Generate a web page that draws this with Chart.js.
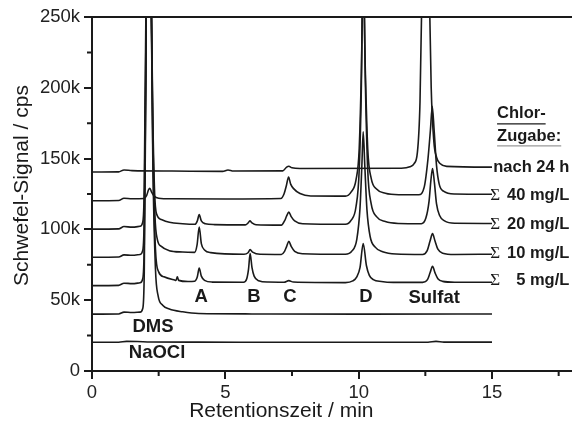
<!DOCTYPE html>
<html>
<head>
<meta charset="utf-8">
<script src="https://cdn.jsdelivr.net/npm/chart.js@4/dist/chart.umd.min.js"></script>
<style>
  body { margin: 0; background: #fff; }
  canvas { display: block; }
</style>
</head>
<body>
<canvas id="chart" width="572" height="425"></canvas>
<script>
// retention time (min), signal (k cps)
const naocl = [[0,20.3],[1.0,20.3],[1.3,20.9],[1.7,20.8],[2.2,20.5],[4,20.4],[8,20.3],[12.6,20.3],[12.9,20.9],[13.2,20.4],[15,20.4]];
const dms = [[0,40.2],[1.0,40.3],[1.2,41.6],[1.5,41.3],[1.8,41.6],[1.9,44],[1.96,70],[2.02,200],[2.1,520],[2.2,300],[2.28,150],[2.38,72],[2.48,53],[2.65,46.5],[2.9,43.8],[3.4,41.8],[4.0,40.6],[6,40.3],[10,40.2],[15,40.3]];
const sum5 = [[0,60.3],[1.0,60.5],[1.2,62],[1.5,61.7],[1.8,62.3],[1.9,65],[1.96,90],[2.02,210],[2.1,520],[2.2,300],[2.28,160],[2.38,86],[2.5,70],[2.7,66.5],[3.1,64.2],[3.15,64],[3.2,66.5],[3.25,64],[3.6,63.2],[3.85,63.4],[3.95,66.5],[4.02,72.7],[4.1,67],[4.22,64],[4.5,62.8],[5.68,62.7],[5.8,65],[5.87,72],[5.93,82.9],[6.0,73],[6.08,67],[6.25,63.8],[6.6,62.8],[7.2,62.7],[7.38,63.8],[7.55,62.8],[9.5,62.4],[9.78,63.6],[9.93,66.5],[10.05,73],[10.17,90],[10.29,74.5],[10.4,67.5],[10.55,64.5],[10.85,63.2],[11.3,62.6],[12.4,62.6],[12.58,64.5],[12.68,69.5],[12.77,74],[12.86,69.5],[12.97,65.2],[13.15,63.3],[13.6,62.7],[15,62.7]];
const sum10 = [[0,80.3],[1.0,80.5],[1.2,82],[1.5,81.7],[1.8,82.3],[1.9,85],[1.96,110],[2.02,230],[2.1,520],[2.2,300],[2.28,170],[2.36,110],[2.45,93],[2.6,88],[2.9,85],[3.4,84],[3.85,83.8],[3.94,89],[4.02,101.7],[4.1,90],[4.22,85.5],[4.45,83.6],[5.7,82.5],[5.85,83.5],[5.93,85.7],[6.02,84],[6.3,82.4],[7.1,82.3],[7.22,84.5],[7.3,88],[7.38,91.6],[7.47,88],[7.6,84.5],[7.9,82.8],[9.5,82.4],[9.75,84.8],[9.93,93],[10.05,115],[10.12,145],[10.17,169],[10.23,145],[10.31,114],[10.43,95],[10.62,87.5],[10.9,84.2],[11.4,82.6],[12.4,82.3],[12.57,85],[12.68,92],[12.77,97],[12.86,92],[12.97,86],[13.15,83.2],[13.6,82.3],[15,82.5]];
const sum20 = [[0,100.2],[1.0,100.4],[1.2,102],[1.5,101.6],[1.8,102.2],[1.9,105],[1.96,130],[2.02,250],[2.1,520],[2.2,300],[2.28,180],[2.35,125],[2.42,111],[2.6,107],[2.9,105],[3.4,104],[3.86,103.6],[3.95,106],[4.02,110.4],[4.1,106],[4.25,104],[4.6,103.4],[5.75,103.2],[5.85,104.5],[5.92,106],[6.0,104.6],[6.15,103.3],[7.1,103],[7.22,106],[7.3,109.5],[7.38,112.3],[7.47,109],[7.6,106],[7.9,104],[9.5,103.6],[9.72,106.5],[9.9,116],[10.02,142],[10.1,200],[10.17,300],[10.25,205],[10.34,142],[10.47,118],[10.67,109],[11.0,105.5],[11.5,104.2],[12.35,104],[12.52,108],[12.64,120],[12.71,135],[12.77,143],[12.84,133],[12.92,118],[13.03,110],[13.22,106],[13.6,104.3],[15,104.2]];
const sum40 = [[0,120.2],[1.0,120.4],[1.2,122],[1.5,121.6],[1.95,121.8],[2.05,124],[2.12,128],[2.17,129],[2.23,126.5],[2.32,123.8],[2.5,122],[3,121.6],[5.0,121.5],[7.08,121.8],[7.2,125],[7.29,131],[7.37,137],[7.45,132],[7.56,128.8],[7.8,125.3],[8.2,123.6],[9.5,123.5],[9.72,126.5],[9.9,135],[10.02,157],[10.1,210],[10.17,280],[10.25,212],[10.34,157],[10.47,136],[10.67,128.5],[11.0,125.5],[11.5,124.5],[12.25,124.5],[12.46,130],[12.6,150],[12.69,170],[12.76,187],[12.83,170],[12.92,145],[13.02,132],[13.18,127],[13.6,125],[15,124.8]];
const after24h = [[0,140.5],[1.0,140.6],[1.2,142],[1.5,141.5],[3,141.2],[4.9,141],[5.1,142],[5.3,141.2],[7.15,141.3],[7.3,144],[7.38,144.6],[7.5,143.5],[7.8,143],[11.6,143.2],[11.92,144.2],[12.08,146.5],[12.2,154],[12.3,190],[12.4,300],[12.52,420],[12.62,300],[12.72,200],[12.82,162],[12.92,151],[13.05,146.5],[13.3,144.5],[15,144]];

const xTicks = [0, 5, 10, 15];
const yTicks = [0, 50, 100, 150, 200, 250];
const xMinor = [2.5, 7.5, 12.5, 17.5];
const yMinor = [25, 75, 125, 175, 225];

const peakNames = ['A', 'B', 'C', 'D', 'Sulfat', 'DMS', 'NaOCl'];
const peakNameX = [4.09, 6.07, 7.42, 10.27, 12.83, 2.29, 2.44];
const peakNameY = [52, 52, 52, 52, 51.5, 31, 12.5];

const seriesNames = ['nach 24 h', '40 mg/L', '20 mg/L', '10 mg/L', '5 mg/L'];
const seriesSigma = [false, true, true, true, true];
const seriesNameY = [144, 124, 103.6, 83.3, 63.6];

const traces = [naocl, dms, sum5, sum10, sum20, sum40, after24h];

const ink = '#1a1a1a';
const sans = "'Liberation Sans', Arial, sans-serif";

const decor = {
  id: 'decor',
  afterDraw(chart) {
    const { ctx, chartArea: a, scales: { x, y } } = chart;
    ctx.save();
    ctx.strokeStyle = ink;
    ctx.lineWidth = 2;
    ctx.beginPath();
    ctx.moveTo(a.left - 1, a.top);
    ctx.lineTo(a.right, a.top);
    ctx.stroke();

    // minor ticks
    ctx.beginPath();
    xMinor.forEach(v => {
      const px = x.getPixelForValue(v);
      ctx.moveTo(px, a.bottom); ctx.lineTo(px, a.bottom + 5);
    });
    yMinor.forEach(v => {
      const py = y.getPixelForValue(v);
      ctx.moveTo(a.left, py); ctx.lineTo(a.left - 5, py);
    });
    ctx.stroke();

    ctx.fillStyle = ink;
    ctx.textBaseline = 'middle';

    // axis titles
    ctx.font = '21px ' + sans;
    ctx.textAlign = 'center';
    ctx.fillText('Retentionszeit / min', x.getPixelForValue(7.1), a.bottom + 40);
    ctx.save();
    ctx.translate(22, y.getPixelForValue(131));
    ctx.rotate(-Math.PI / 2);
    ctx.fillText('Schwefel-Signal / cps', 0, 0);
    ctx.restore();

    // peak names
    ctx.font = 'bold 18.5px ' + sans;
    peakNames.forEach((t, i) => {
      ctx.fillText(t, x.getPixelForValue(peakNameX[i]), y.getPixelForValue(peakNameY[i]));
    });

    // legend on the right
    const right = x.getPixelForValue(17.9);
    const left = x.getPixelForValue(15.19);
    ctx.textAlign = 'left';
    ctx.font = 'bold 16.5px ' + sans;
    ctx.fillText('Chlor-', left, y.getPixelForValue(182));
    ctx.fillText('Zugabe:', left, y.getPixelForValue(165.5));
    const w1 = ctx.measureText('Chlor-').width;
    const w2 = ctx.measureText('Zugabe:').width;
    ctx.lineWidth = 1.2;
    ctx.beginPath();
    ctx.moveTo(left, y.getPixelForValue(174.5)); ctx.lineTo(left + w1, y.getPixelForValue(174.5));
    ctx.stroke();
    ctx.strokeStyle = '#999';
    ctx.beginPath();
    ctx.moveTo(left, y.getPixelForValue(159)); ctx.lineTo(left + w2, y.getPixelForValue(159));
    ctx.stroke();

    ctx.textAlign = 'right';
    seriesNames.forEach((t, i) => {
      ctx.font = 'bold 16.5px ' + sans;
      ctx.fillText(t, right, y.getPixelForValue(seriesNameY[i]));
      if (seriesSigma[i]) {
        ctx.textAlign = 'left';
        ctx.font = "17px 'Liberation Serif', serif";
        ctx.fillText('\u03A3', x.getPixelForValue(14.93), y.getPixelForValue(seriesNameY[i]));
        ctx.textAlign = 'right';
      }
    });
    ctx.restore();
  }
};

new Chart(document.getElementById('chart'), {
  type: 'line',
  data: {
    datasets: traces.map(tr => ({
      data: tr.map(([t, v]) => ({ x: t, y: v })),
      borderColor: ink,
      borderWidth: 1.6,
      pointRadius: 0,
      fill: false,
      cubicInterpolationMode: 'monotone'
    }))
  },
  options: {
    responsive: false,
    animation: false,
    devicePixelRatio: 1,
    layout: { padding: { top: 17, right: 0, left: 0, bottom: 0 } },
    plugins: { legend: { display: false }, tooltip: { enabled: false } },
    scales: {
      x: {
        type: 'linear',
        min: 0,
        max: 18,
        afterBuildTicks: s => { s.ticks = xTicks.map(v => ({ value: v })); },
        afterFit: s => { s.height = 54; },
        ticks: { color: '#222', font: { family: sans, size: 18.5 }, padding: 3, maxRotation: 0 },
        grid: { drawOnChartArea: false, tickLength: 8, color: ink, lineWidth: 2 },
        border: { display: true, color: ink, width: 2 }
      },
      y: {
        min: 0,
        max: 250,
        afterBuildTicks: s => { s.ticks = yTicks.map(v => ({ value: v })); },
        afterFit: s => { s.width = 92; },
        ticks: {
          color: '#222',
          font: { family: sans, size: 18.5 },
          padding: 4,
          callback: v => v === 0 ? '0' : v + 'k'
        },
        grid: { drawOnChartArea: false, tickLength: 8, color: ink, lineWidth: 2 },
        border: { display: true, color: ink, width: 2 }
      }
    }
  },
  plugins: [decor]
});
</script>
</body>
</html>
